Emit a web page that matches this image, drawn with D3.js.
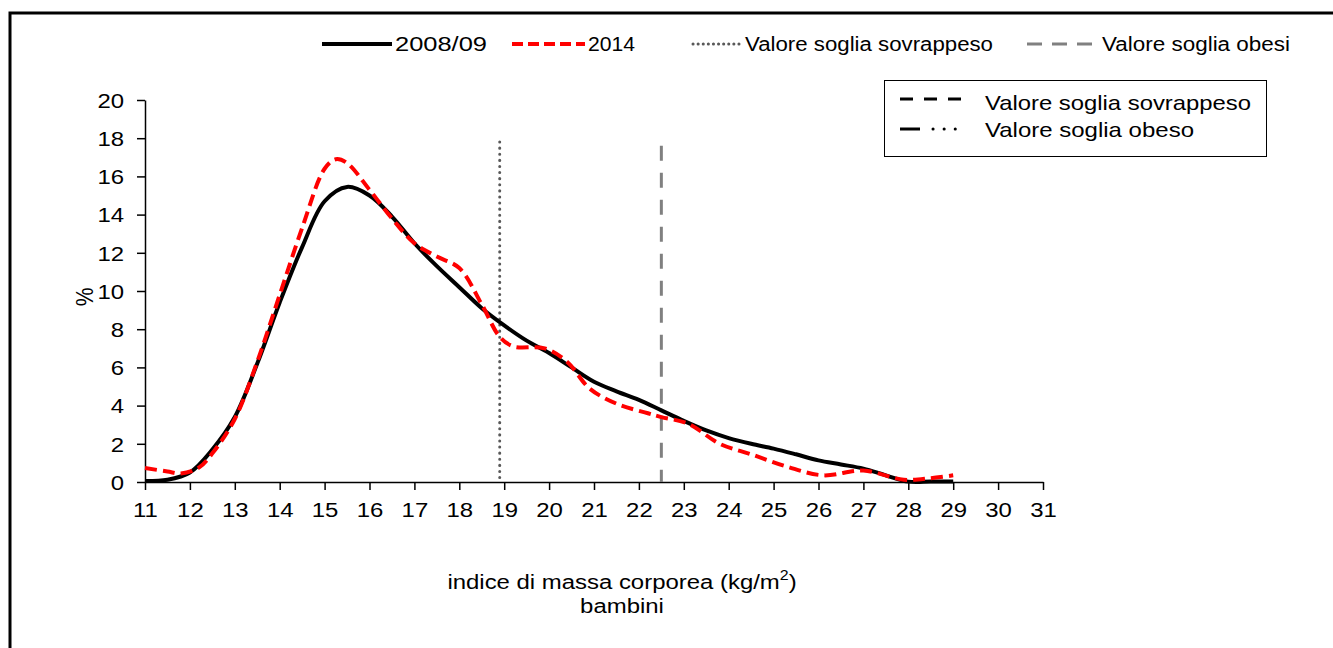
<!DOCTYPE html>
<html><head><meta charset="utf-8">
<script src="https://cdn.jsdelivr.net/npm/d3@7"></script>
<style>body{margin:0;background:#fff;} svg{display:block;font-family:"Liberation Sans",Arial,sans-serif;}</style>
</head><body>
<svg id="c" width="1333" height="648"></svg>
<script>
// ---- data ----
const xTicks = [11,12,13,14,15,16,17,18,19,20,21,22,23,24,25,26,27,28,29,30,31];
const yTicks = [0,2,4,6,8,10,12,14,16,18,20];
const bmi0809 = [11,11.5,12,12.5,13,13.5,14,14.5,15,15.5,16,16.5,17,17.5,18,18.5,19,19.5,20,20.5,21,21.5,22,22.5,23,23.5,24,24.5,25,25.5,26,26.5,27,27.5,28,28.5,29];
const pct0809 = [0.05,0.12,0.5,1.7,3.4,6.2,9.4,12.3,14.7,15.45,15.0,13.9,12.5,11.3,10.2,9.1,8.2,7.4,6.75,6.0,5.25,4.75,4.3,3.75,3.2,2.7,2.3,2.0,1.75,1.45,1.13,0.92,0.7,0.35,0.02,0.02,0.02];
const bmi2014 = [11,11.5,11.8,12.2,12.5,13,13.5,14,14.5,15,15.25,15.5,16,16.5,17,17.5,18,18.5,18.9,19.2,19.9,20.4,20.9,21.5,22.2,22.5,23.1,23.8,24.5,25.3,26.1,27.0,27.9,28.5,29];
const pct2014 = [0.73,0.55,0.45,0.75,1.5,3.3,6.3,9.8,13.3,16.4,16.9,16.7,15.3,13.8,12.5,11.8,11.2,9.3,7.6,7.1,7.0,6.3,4.9,4.1,3.6,3.4,3.05,2.0,1.45,0.8,0.35,0.6,0.12,0.2,0.35];
const thresholdOver = 18.9, thresholdObese = 22.5, thresholdTop = 17.8;
const legendTop = ["2008/09","2014","Valore soglia sovrappeso","Valore soglia obesi"];
const legendBox = ["Valore soglia sovrappeso","Valore soglia obeso"];

const SX = 1.14; // horizontal stretch of the original picture's text
const svg = d3.select("#c");
// frame
svg.append("path").attr("d","M10,650 L10,13 L1340,13").attr("fill","none").attr("stroke","#000").attr("stroke-width",3);

const x = d3.scaleLinear().domain([11,31]).range([145,1043]);
const y = d3.scaleLinear().domain([0,20]).range([482,100]);

// axes
const gx = svg.append("g").attr("transform","translate(0,482)")
  .call(d3.axisBottom(x).tickValues(xTicks).tickSize(8).tickSizeOuter(0).tickFormat(d3.format("d")));
const gy = svg.append("g").attr("transform","translate(145,0)")
  .call(d3.axisLeft(y).tickValues(yTicks).tickSize(8).tickSizeOuter(0).tickFormat(d3.format("d")));
[gx,gy].forEach(g=>{
  g.select(".domain").attr("stroke","#000").attr("stroke-width",1.5);
  g.selectAll(".tick line").attr("stroke","#000").attr("stroke-width",1.5);
  g.selectAll(".tick text").attr("font-size",21).attr("fill","#000").attr("font-family","Liberation Sans,Arial,sans-serif")
    .attr("transform",`scale(${SX},1)`);
});
gx.selectAll(".tick text").attr("y",15).attr("dy","0.95em");
gy.selectAll(".tick text").attr("x",-21/SX).attr("dy","0.35em");

// threshold lines
svg.append("line").attr("x1",x(thresholdOver)).attr("x2",x(thresholdOver)).attr("y1",y(thresholdTop)).attr("y2",y(0))
  .attr("stroke","#595959").attr("stroke-width",3).attr("stroke-dasharray","0.1,6").attr("stroke-linecap","round");
svg.append("line").attr("x1",x(thresholdObese)).attr("x2",x(thresholdObese)).attr("y1",y(17.6)).attr("y2",y(0))
  .attr("stroke","#808080").attr("stroke-width",3).attr("stroke-dasharray","15,12");

const line = d3.line().x(d=>x(d[0])).y(d=>y(d[1])).curve(d3.curveCatmullRom.alpha(0.5));
svg.append("path").datum(bmi0809.map((b,i)=>[b,pct0809[i]])).attr("d",line)
  .attr("fill","none").attr("stroke","#000").attr("stroke-width",4);
svg.append("path").datum(bmi2014.map((b,i)=>[b,pct2014[i]])).attr("d",line)
  .attr("fill","none").attr("stroke","#ff0000").attr("stroke-width",4).attr("stroke-dasharray","12,6");

// axis titles
const t = svg.append("text").attr("transform",`translate(622,589) scale(${SX},1)`).attr("text-anchor","middle").attr("font-size",21).attr("fill","#000");
t.append("tspan").text("indice di massa corporea (kg/m");
t.append("tspan").attr("font-size",14).attr("dy",-9).text("2");
t.append("tspan").attr("dy",9).text(")");
svg.append("text").attr("transform",`translate(622,613) scale(${SX},1)`).attr("text-anchor","middle").attr("font-size",21).attr("fill","#000").text("bambini");
svg.append("text").attr("transform","translate(93,297) rotate(-90) scale(1,1.14)").attr("text-anchor","middle").attr("font-size",21).attr("fill","#000").text("%");

// top legend
const narrow = "'Liberation Sans Narrow','Arial Narrow',sans-serif";
const lt = [
  {x1:322,x2:392,tx:395,tl:92,stroke:"#000",dash:null,w:4},
  {x1:512,x2:585,tx:588,tl:47,stroke:"#ff0000",dash:"11,5",w:4},
  {x1:693,x2:742,tx:745,tl:248,stroke:"#595959",dash:"0.1,5",w:3,cap:"round"},
  {x1:1027,x2:1098,tx:1102,tl:188,stroke:"#808080",dash:"15,10",w:3}
];
lt.forEach((d,i)=>{
  svg.append("line").attr("x1",d.x1).attr("x2",d.x2).attr("y1",44).attr("y2",44)
    .attr("stroke",d.stroke).attr("stroke-width",d.w).attr("stroke-dasharray",d.dash).attr("stroke-linecap",d.cap||"butt");
  svg.append("text").attr("x",d.tx).attr("y",51).attr("font-size",20).attr("font-family",narrow)
    .attr("textLength",d.tl).attr("lengthAdjust","spacingAndGlyphs").attr("fill","#000").text(legendTop[i]);
});

// box legend
svg.append("rect").attr("x",884.5).attr("y",80.5).attr("width",382).attr("height",76).attr("fill","#fff").attr("stroke","#000").attr("stroke-width",1);
svg.append("line").attr("x1",900).attr("x2",962).attr("y1",99).attr("y2",99).attr("stroke","#000").attr("stroke-width",3).attr("stroke-dasharray","13,11");
svg.append("line").attr("x1",900).attr("x2",920).attr("y1",129).attr("y2",129).attr("stroke","#000").attr("stroke-width",3);
svg.append("line").attr("x1",933).attr("x2",962).attr("y1",129).attr("y2",129).attr("stroke","#000").attr("stroke-width",3).attr("stroke-dasharray","0.1,11").attr("stroke-linecap","round");
svg.append("text").attr("x",985).attr("y",110).attr("font-size",21).attr("textLength",266).attr("lengthAdjust","spacingAndGlyphs").attr("fill","#000").text(legendBox[0]);
svg.append("text").attr("x",985).attr("y",137).attr("font-size",21).attr("textLength",209).attr("lengthAdjust","spacingAndGlyphs").attr("fill","#000").text(legendBox[1]);
</script>
</body></html>
